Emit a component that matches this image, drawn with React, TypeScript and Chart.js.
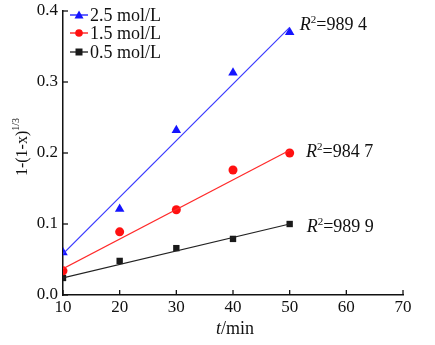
import React, { useEffect, useRef } from "react";
import { Chart, registerables } from "chart.js";

Chart.register(...registerables);

const times = [10, 20, 30, 40, 50];
const conc25 = [0.06, 0.121, 0.232, 0.313, 0.37];
const conc15 = [0.034, 0.089, 0.12, 0.176, 0.2];
const conc05 = [0.024, 0.048, 0.066, 0.079, 0.1];

const fitTimes = [10, 50];
const fit25 = [0.058, 0.377];
const fit15 = [0.037, 0.204];
const fit05 = [0.024, 0.1];

const seriesNames = ["2.5 mol/L", "1.5 mol/L", "0.5 mol/L"];
const r2Labels = ["=989 4", "=984 7", "=989 9"];
const r2Pos = [
  [51.8, 0.38],
  [52.9, 0.201],
  [53.0, 0.096],
];

const xTicks = [10, 20, 30, 40, 50, 60, 70];
const yTicks = [0.0, 0.1, 0.2, 0.3, 0.4];

const BLUE = "#1414ff";
const RED = "#ff1010";
const BLACK = "#1a1a1a";
const FONT = "'Liberation Serif', 'Times New Roman', serif";

const toPts = (xs: number[], ys: number[]) => xs.map((x, i) => ({ x, y: ys[i] }));

const decorPlugin = {
  id: "decor",
  afterDraw(chart: any) {
    const ctx = chart.ctx;
    const xs = chart.scales.x;
    const ys = chart.scales.y;
    const area = chart.chartArea;
    ctx.save();
    // inward ticks
    ctx.strokeStyle = "#111";
    ctx.lineWidth = 1.3;
    xTicks.forEach((t) => {
      const px = xs.getPixelForValue(t);
      ctx.beginPath();
      ctx.moveTo(px, area.bottom);
      ctx.lineTo(px, area.bottom - 5);
      ctx.stroke();
    });
    yTicks.forEach((t) => {
      const py = ys.getPixelForValue(t);
      ctx.beginPath();
      ctx.moveTo(area.left, py);
      ctx.lineTo(area.left + 5, py);
      ctx.stroke();
    });

    // legend
    const colors = [BLUE, RED, BLACK];
    const shapes = ["triangle", "circle", "rect"];
    const lx0 = area.left + 7;
    const lx1 = area.left + 25;
    const ly = [15, 33, 52];
    ctx.font = `18px ${FONT}`;
    ctx.textBaseline = "middle";
    ctx.textAlign = "left";
    for (let i = 0; i < 3; i++) {
      ctx.strokeStyle = colors[i];
      ctx.lineWidth = 1.3;
      ctx.beginPath();
      ctx.moveTo(lx0, ly[i]);
      ctx.lineTo(lx1, ly[i]);
      ctx.stroke();
      ctx.fillStyle = colors[i];
      const cx = (lx0 + lx1) / 2;
      ctx.beginPath();
      if (shapes[i] === "triangle") {
        ctx.moveTo(cx, ly[i] - 4.5);
        ctx.lineTo(cx + 4.5, ly[i] + 3.5);
        ctx.lineTo(cx - 4.5, ly[i] + 3.5);
        ctx.closePath();
      } else if (shapes[i] === "circle") {
        ctx.arc(cx, ly[i], 3.8, 0, Math.PI * 2);
      } else {
        ctx.rect(cx - 3.5, ly[i] - 3.5, 7, 7);
      }
      ctx.fill();
      ctx.fillStyle = "#111";
      ctx.fillText(seriesNames[i], lx1 + 2, ly[i] + 1);
    }

    // R^2 labels
    ctx.fillStyle = "#111";
    for (let i = 0; i < 3; i++) {
      const px = xs.getPixelForValue(r2Pos[i][0]);
      const py = ys.getPixelForValue(r2Pos[i][1]);
      ctx.font = `italic 18px ${FONT}`;
      ctx.textBaseline = "middle";
      ctx.fillText("R", px, py);
      let w = ctx.measureText("R").width;
      ctx.font = `11px ${FONT}`;
      ctx.fillText("2", px + w, py - 5);
      w += ctx.measureText("2").width;
      ctx.font = `18px ${FONT}`;
      ctx.fillText(r2Labels[i], px + w, py);
    }

    // x title
    ctx.font = `italic 18px ${FONT}`;
    const tW = ctx.measureText("t").width;
    ctx.font = `18px ${FONT}`;
    const mW = ctx.measureText("/min").width;
    const tx = 235 - (tW + mW) / 2;
    ctx.textBaseline = "middle";
    ctx.font = `italic 18px ${FONT}`;
    ctx.fillText("t", tx, 329);
    ctx.font = `18px ${FONT}`;
    ctx.fillText("/min", tx + tW, 329);

    // y title
    ctx.translate(23, 147);
    ctx.rotate(-Math.PI / 2);
    ctx.font = `16px ${FONT}`;
    const main = "1-(1-x)";
    const mw = ctx.measureText(main).width;
    ctx.font = `10px ${FONT}`;
    const sw = ctx.measureText("1/3").width;
    const sx = -(mw + sw) / 2;
    ctx.font = `16px ${FONT}`;
    ctx.textAlign = "left";
    ctx.fillText(main, sx, 0);
    ctx.font = `10px ${FONT}`;
    ctx.fillText("1/3", sx + mw, -7);
    ctx.restore();
  },
};

export default function App() {
  const ref = useRef<HTMLCanvasElement>(null);
  useEffect(() => {
    if (!ref.current) return;
    const chart = new Chart(ref.current, {
      type: "scatter",
      data: {
        datasets: [
          {
            label: "fit25",
            data: toPts(fitTimes, fit25),
            showLine: true,
            borderColor: "#3a3aff",
            borderWidth: 1.2,
            pointRadius: 0,
          },
          {
            label: "fit15",
            data: toPts(fitTimes, fit15),
            showLine: true,
            borderColor: "#ff2a2a",
            borderWidth: 1.2,
            pointRadius: 0,
          },
          {
            label: "fit05",
            data: toPts(fitTimes, fit05),
            showLine: true,
            borderColor: "#222",
            borderWidth: 1.2,
            pointRadius: 0,
          },
          {
            label: seriesNames[0],
            data: toPts(times, conc25),
            showLine: false,
            pointStyle: "triangle",
            pointRadius: 5.5,
            backgroundColor: BLUE,
            borderColor: BLUE,
            borderWidth: 0,
          },
          {
            label: seriesNames[1],
            data: toPts(times, conc15),
            showLine: false,
            pointStyle: "circle",
            pointRadius: 4.5,
            backgroundColor: RED,
            borderColor: RED,
            borderWidth: 0,
          },
          {
            label: seriesNames[2],
            data: toPts(times, conc05),
            showLine: false,
            pointStyle: "rect",
            pointRadius: 4.5,
            backgroundColor: BLACK,
            borderColor: BLACK,
            borderWidth: 0,
          },
        ],
      },
      options: {
        animation: false,
        responsive: false,
        maintainAspectRatio: false,
        layout: { padding: { top: 11, right: 32, left: 0, bottom: 0 } },
        plugins: { legend: { display: false }, tooltip: { enabled: false } },
        scales: {
          x: {
            type: "linear",
            min: 10,
            max: 70,
            afterFit: (s: any) => {
              s.height = 50;
              s.paddingLeft = 0;
              s.paddingRight = 0;
            },
            afterBuildTicks: (s: any) => {
              s.ticks = xTicks.map((v) => ({ value: v }));
            },
            grid: { display: false, drawTicks: false },
            border: { display: true, color: "#111", width: 1.5 },
            ticks: {
              color: "#111",
              font: { family: FONT, size: 17 },
              padding: 2,
              maxRotation: 0,
            },
          },
          y: {
            type: "linear",
            min: 0,
            max: 0.4,
            afterFit: (s: any) => {
              s.width = 63;
              s.paddingTop = 0;
              s.paddingBottom = 0;
            },
            afterBuildTicks: (s: any) => {
              s.ticks = yTicks.map((v) => ({ value: v }));
            },
            grid: { display: false, drawTicks: false },
            border: { display: true, color: "#111", width: 1.5 },
            ticks: {
              color: "#111",
              font: { family: FONT, size: 17 },
              padding: 5,
              callback: (v: any) => Number(v).toFixed(1),
            },
          },
        },
      },
      plugins: [decorPlugin],
    });
    return () => chart.destroy();
  }, []);
  return (
    <div style={{ position: "fixed", left: 0, top: 0, width: 435, height: 345, background: "#fff" }}>
      <canvas ref={ref} width={435} height={345} style={{ width: 435, height: 345 }} />
    </div>
  );
}
